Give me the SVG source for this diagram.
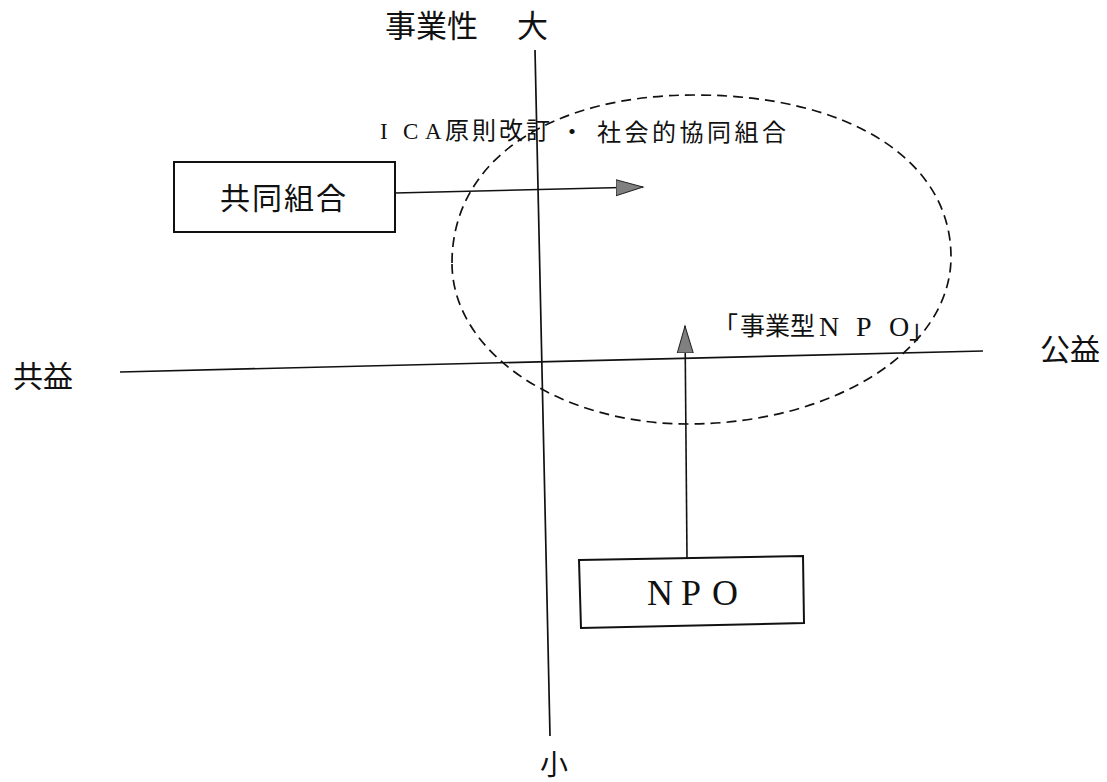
<svg xmlns="http://www.w3.org/2000/svg" width="1107" height="782" viewBox="0 0 1107 782">
<style>
.jp{font-family:"Noto Sans CJK JP","Noto Sans CJK SC",sans-serif;fill:#111}
.se{font-family:"Liberation Serif",serif;fill:#111}
.ax{stroke:#111;stroke-width:1.7;fill:none}
.box{stroke:#111;stroke-width:2;fill:#fff}
.arr{stroke:#111;stroke-width:1.6;fill:none}
.ell{stroke:#111;stroke-width:1.7;fill:none;stroke-dasharray:10 6}
</style>
<defs>
<marker id="ah" markerUnits="userSpaceOnUse" markerWidth="30" markerHeight="22" refX="27" refY="9" orient="auto">
<path d="M0,1 L27,9 L0,17 Z" fill="#808080" stroke="#222" stroke-width="1"/>
</marker>
</defs>
<g id="axes">
<line class="ax" x1="535" y1="50" x2="550" y2="736"/>
<line class="ax" x1="120" y1="372" x2="983" y2="351"/>
</g>
<g id="ellipse">
<path class="ell" d="M452,263 C452,160 550,95 695,95 C849,95 951,160 951,257 C951,350 833,424 688,424 C560,424 452,353 452,263 Z"/>
</g>
<g id="labels">
<text class="jp" x="385" y="37" font-size="31">事業性</text>
<text class="jp" x="517" y="37" font-size="31">大</text>
<text class="jp" x="13" y="387" font-size="30">共益</text>
<text class="jp" x="1040" y="360" font-size="30">公益</text>
<text class="jp" x="540" y="775" font-size="28">小</text>
</g>
<g id="ica-label">
<text class="se" y="139" font-size="23"><tspan x="380">I</tspan><tspan x="403">C</tspan><tspan x="425">A</tspan></text>
<text class="jp" x="445" y="139" font-size="24" letter-spacing="3">原則改訂</text>
<text class="jp" x="560" y="140" font-size="24">・</text>
<text class="jp" x="597" y="141" font-size="24" letter-spacing="3.5">社会的協同組合</text>
</g>
<g id="jigyo-npo-label">
<text class="jp" x="713" y="335" font-size="25">「</text>
<text class="jp" x="740" y="335" font-size="25">事業型</text>
<text class="se" y="336" font-size="28"><tspan x="819">N</tspan><tspan x="856">P</tspan><tspan x="889">O</tspan></text>
<text class="jp" x="909" y="338" font-size="25">」</text>
</g>
<g id="node-kyodo">
<rect class="box" x="174" y="162" width="221" height="70"/>
<text class="jp" x="220" y="209" font-size="30" letter-spacing="2">共同組合</text>
</g>
<g id="node-npo">
<path class="box" d="M579,560 L803,556 L804,623 L581,628 Z"/>
<text class="se" y="605" font-size="36"><tspan x="647">N</tspan><tspan x="681">P</tspan><tspan x="712">O</tspan></text>
</g>
<g id="connectors">
<line class="arr" x1="395" y1="193" x2="643" y2="187" marker-end="url(#ah)"/>
<line class="arr" x1="687" y1="558" x2="685" y2="326" marker-end="url(#ah)"/>
</g>
</svg>
